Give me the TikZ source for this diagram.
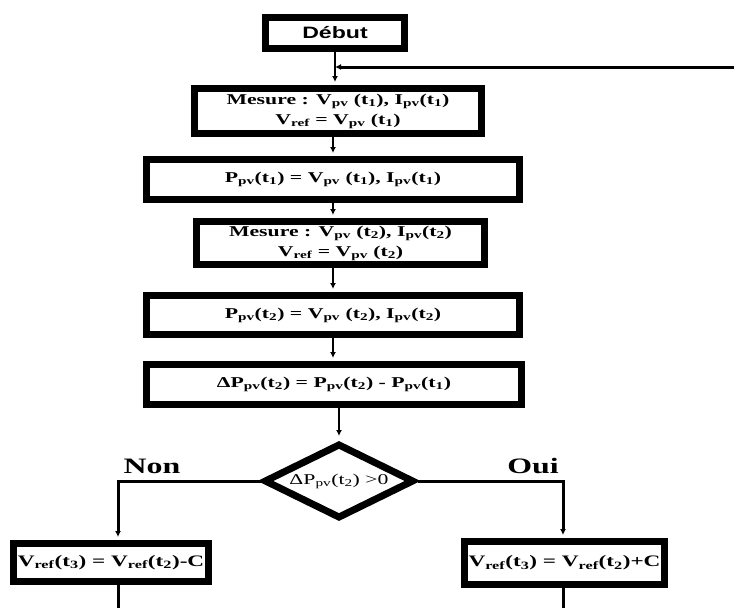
\documentclass[tikz,border=0pt]{standalone}
\usepackage{fontspec}
\setmainfont{Liberation Serif}[FakeStretch=1.45]
\newfontfamily\debutfont{Liberation Sans}[FakeStretch=1.4]
\usetikzlibrary{shapes.geometric,arrows.meta}
\newcommand{\sbx}[1]{\textsubscript{#1}}
\begin{document}
\begin{tikzpicture}[x=1pt,y=-1pt,
  box/.style={draw,line width=7pt,rectangle,inner sep=0pt,align=center,
    font=\bfseries\fontsize{15}{20}\selectfont},
  conn/.style={line width=2pt},
  branch/.style={line width=3pt},
  tip/.style={-{Latex[length=6pt,width=6pt]}},
  lbl/.style={font=\bfseries\fontsize{22}{24}\selectfont,inner sep=0pt}]
\useasboundingbox (0,0) rectangle (734,608);

\node[box,minimum width=139pt,minimum height=31pt,font=\debutfont\bfseries\fontsize{16.5}{18}\selectfont] (debut) at (335,33) {Début};
\node[box,minimum width=287pt,minimum height=45pt] (m1) at (338,111)
  {Mesure : V\sbx{pv} (t\sbx{1}), I\sbx{pv}(t\sbx{1})\\V\sbx{ref} = V\sbx{pv} (t\sbx{1})};
\node[box,minimum width=373pt,minimum height=40pt] (p1) at (333,179.5)
  {P\sbx{pv}(t\sbx{1}) = V\sbx{pv} (t\sbx{1}), I\sbx{pv}(t\sbx{1})};
\node[box,minimum width=288pt,minimum height=43pt] (m2) at (340.5,243)
  {Mesure : V\sbx{pv} (t\sbx{2}), I\sbx{pv}(t\sbx{2})\\V\sbx{ref} = V\sbx{pv} (t\sbx{2})};
\node[box,minimum width=373pt,minimum height=39pt] (p2) at (333,315)
  {P\sbx{pv}(t\sbx{2}) = V\sbx{pv} (t\sbx{2}), I\sbx{pv}(t\sbx{2})};
\node[box,minimum width=375pt,minimum height=40pt] (dp) at (334,384.5)
  {ΔP\sbx{pv}(t\sbx{2}) = P\sbx{pv}(t\sbx{2}) - P\sbx{pv}(t\sbx{1})};
\node[draw,diamond,aspect=2.2,line width=7pt,inner sep=0pt,minimum width=150pt,minimum height=75pt,
  font=\fontsize{15}{18}\selectfont] (dia) at (339,481) {ΔP\sbx{pv}(t\sbx{2}) >0};
\node[box,minimum width=195pt,minimum height=38pt,font=\bfseries\fontsize{16}{18}\selectfont] (vm) at (111,562.5)
  {V\sbx{ref}(t\sbx{3}) = V\sbx{ref}(t\sbx{2})-C};
\node[box,minimum width=200pt,minimum height=43pt,font=\bfseries\fontsize{16}{18}\selectfont] (vp) at (564.5,563)
  {V\sbx{ref}(t\sbx{3}) = V\sbx{ref}(t\sbx{2})+C};

\node[lbl] (non) at (152,466) {Non};
\node[lbl] (oui) at (533,466) {Oui};

\coordinate (fb) at (734,67);
\coordinate (outm) at (118,612);
\coordinate (outp) at (563,612);

\draw[conn,tip,shorten >=3pt] (debut.south) -- (debut.south |- m1.north);
\draw[branch,tip] (fb) -- (fb -| debut.south);
\draw[conn,tip,shorten >=3pt] (m1.south -| p1.north) -- (p1.north);
\draw[conn,tip,shorten >=3pt] (p1.south) -- (p1.south |- m2.north);
\draw[conn,tip,shorten >=3pt] (m2.south -| p2.north) -- (p2.north);
\draw[conn,tip,shorten >=3pt] (p2.south) -- (p2.south |- dp.north);
\draw[conn,tip,shorten >=4pt] (dp.south -| dia.north) -- (dia.north);
\draw[branch,tip,shorten >=3pt] (dia.west) -| ([xshift=7pt]vm.north);
\draw[branch,tip,shorten >=3pt] (dia.east) -| ([xshift=-1.5pt]vp.north);
\draw[branch] ([xshift=7pt]vm.south) -- (outm);
\draw[branch] ([xshift=-1.5pt]vp.south) -- (outp);
\end{tikzpicture}
\end{document}
